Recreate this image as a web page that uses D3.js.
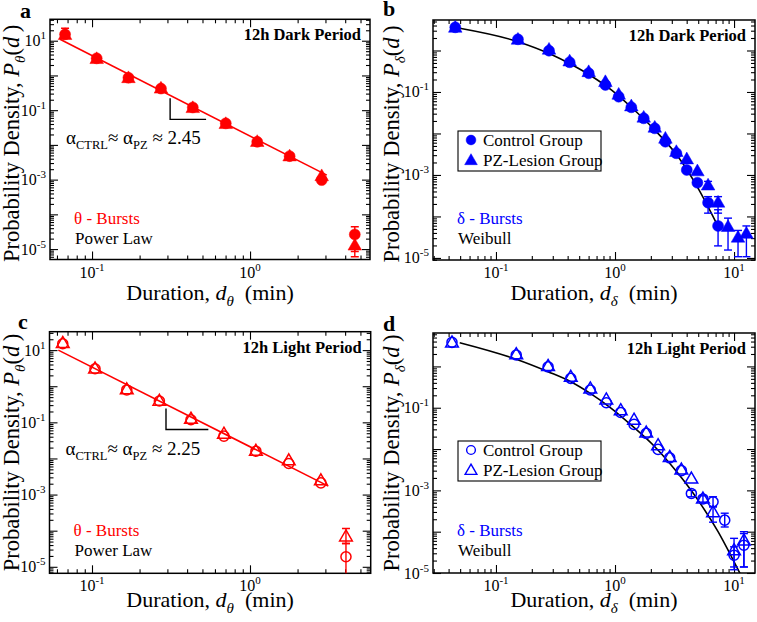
<!DOCTYPE html>
<html><head><meta charset="utf-8">
<script src="https://cdn.jsdelivr.net/npm/d3@7"></script>
<style>
body{margin:0;background:#fff}
svg{display:block}
text{font-family:"Liberation Serif","Times New Roman",serif}
</style></head><body>
<svg id="chart" width="757" height="622"></svg>
<script>
// ---------------- DATA ----------------
// Panel a: theta bursts, 12h dark period
const thetaDarkX    = [0.0675, 0.107, 0.170, 0.273, 0.434, 0.702, 1.11, 1.78, 2.84, 4.6];
const thetaDarkCtrl = [15.3, 3.11, 0.86, 0.42, 0.120, 0.0417, 0.0123, 0.00475, 0.00097, 2.64e-5];
const thetaDarkPZ   = [15.0, 3.05, 0.86, 0.43, 0.118, 0.041, 0.0125, 0.0048, 0.00129, 1.3e-5];
const thetaDarkCtrlErrLo = [null, null, null, null, null, null, null, null, null, 8.5e-6];
const thetaDarkCtrlErrHi = [22.8, null, null, null, null, null, null, null, null, 4.4e-5];
const thetaDarkPZErrLo   = [null, null, null, null, null, null, null, null, null, 6e-6];
const thetaDarkPZErrHi   = [null, null, null, null, null, null, null, null, null, 2.2e-5];
const thetaDarkFitX = [0.0627, 3.06];
const thetaDarkFitY = [11, 1.35e-3];
const thetaDarkSlopeX = [0.312, 0.312, 0.527];
const thetaDarkSlopeY = [0.219, 0.0543, 0.0543];

// Panel c: theta bursts, 12h light period
const thetaLightX    = [0.0653, 0.1045, 0.166, 0.267, 0.423, 0.684, 1.09, 1.76, 2.81, 4.05];
const thetaLightCtrl = [15.0, 3.05, 0.79, 0.39, 0.118, 0.0415, 0.0159, 0.00726, 0.00211, 1.9e-5];
const thetaLightPZ   = [16.0, 3.15, 0.83, 0.40, 0.128, 0.049, 0.0165, 0.00897, 0.0025, 7.0e-5];
const thetaLightCtrlErrLo = [null, null, null, null, null, null, null, null, null, 4e-6];
const thetaLightCtrlErrHi = [null, null, null, null, null, null, null, null, null, 4.4e-5];
const thetaLightPZErrLo   = [null, null, null, null, null, null, null, null, null, 4.4e-5];
const thetaLightPZErrHi   = [null, null, null, null, null, null, null, null, null, 1.15e-4];
const thetaLightFitX = [0.0612, 3.13];
const thetaLightFitY = [10, 1.71e-3];
const thetaLightSlopeX = [0.294, 0.294, 0.545];
const thetaLightSlopeY = [0.243, 0.0635, 0.0635];

// Panel b: delta bursts, 12h dark period
const deltaDarkCtrlX = [0.0455, 0.153, 0.279, 0.416, 0.601, 0.830, 1.074, 1.371, 1.742, 2.157, 2.650, 3.276, 4.007, 4.92, 6.05, 7.34];
const deltaDarkCtrl  = [3.62, 1.86, 0.99, 0.52, 0.283, 0.148, 0.077, 0.0428, 0.0232, 0.0133, 0.00634, 0.00333, 0.00132, 6.5e-4, 2.15e-4, 5.9e-5];
const deltaDarkCtrlErrLo = [null, null, null, null, null, null, null, null, null, null, null, null, null, null, 1.2e-4, 1.95e-5];
const deltaDarkCtrlErrHi = [null, null, null, null, null, null, null, null, null, null, null, null, null, null, 3.0e-4, 1.45e-4];
const deltaDarkPZX = [0.0455, 0.153, 0.279, 0.416, 0.601, 0.830, 1.074, 1.371, 1.742, 2.157, 2.650, 3.276, 4.007, 4.92, 6.05, 7.34, 8.9, 10.8, 12.7];
const deltaDarkPZ  = [3.62, 1.86, 1.07, 0.558, 0.308, 0.177, 0.088, 0.046, 0.0246, 0.0141, 0.00766, 0.00365, 0.00243, 0.00125, 5.7e-4, 2.2e-4, 5.7e-5, 3.15e-5, 3.9e-5];
const deltaDarkPZErrLo = [null, null, null, null, null, null, null, null, null, null, null, null, null, null, 4.6e-4, 1.2e-4, 1.55e-5, 1.07e-5, 1.07e-5];
const deltaDarkPZErrHi = [null, null, null, null, null, null, null, null, null, null, null, null, null, null, 7.0e-4, 3.0e-4, 9.1e-5, 4.6e-5, 5.9e-5];
const deltaDarkFitX = [0.0496, 0.153, 0.292, 0.430, 0.632, 0.931, 1.371, 2.157, 3.38, 4.98, 7.34];
const deltaDarkFitY = [3.43, 1.63, 0.80, 0.46, 0.243, 0.112, 0.0428, 0.0121, 0.00277, 4.8e-4, 5.7e-5];

// Panel d: delta bursts, 12h light period
const deltaLightCtrlX = [0.0427, 0.148, 0.274, 0.425, 0.620, 0.845, 1.117, 1.445, 1.83, 2.30, 2.88, 3.61, 4.38, 5.48, 6.66, 8.35, 10.0, 12.1];
const deltaLightCtrl  = [3.83, 1.89, 0.98, 0.515, 0.269, 0.132, 0.077, 0.0395, 0.024, 0.0098, 0.00615, 0.0030, 8.4e-4, 6.2e-4, 5.3e-4, 1.9e-4, 2.7e-5, 4.7e-5];
const deltaLightCtrlErrLo = [null, null, null, null, null, null, null, null, null, null, null, null, 7e-4, 5.2e-4, 4e-4, 1.3e-4, 1.2e-5, 1.4e-5];
const deltaLightCtrlErrHi = [null, null, null, null, null, null, null, null, null, null, null, null, 1e-3, 7.4e-4, 7e-4, 2.8e-4, 4.3e-5, 1e-4];
const deltaLightPZX = [0.0427, 0.148, 0.274, 0.425, 0.620, 0.845, 1.117, 1.445, 1.83, 2.30, 2.88, 3.61, 4.38, 5.48, 6.66, 10.0, 12.1];
const deltaLightPZ  = [3.83, 2.0, 1.04, 0.564, 0.295, 0.160, 0.088, 0.052, 0.0253, 0.0125, 0.0065, 0.00322, 0.00195, 6.4e-4, 3.0e-4, 3.6e-5, 6.2e-5];
const deltaLightPZErrLo = [null, null, null, null, null, null, null, null, null, null, null, null, null, null, 1.7e-4, 1.4e-5, 1.4e-5];
const deltaLightPZErrHi = [null, null, null, null, null, null, null, null, null, null, null, null, null, null, 4e-4, 6.9e-5, 9e-5];
const deltaLightFitX = [0.0496, 0.148, 0.274, 0.425, 0.620, 0.93, 1.37, 2.16, 3.38, 4.98, 7.34, 9.5, 11.5];
const deltaLightFitY = [3.75, 1.49, 0.745, 0.427, 0.223, 0.097, 0.038, 0.0114, 0.00258, 5.8e-4, 1.0e-4, 2.5e-5, 8.5e-6];

// Labels
const panelLetters = ["a", "b", "c", "d"];
const periodTitles = ["12h Dark Period", "12h Dark Period", "12h Light Period", "12h Light Period"];
const legendLabels = ["Control Group", "PZ-Lesion Group"];
const burstLabels = ["\u03b8 - Bursts", "\u03b4 - Bursts"];
const fitLabels = ["Power Law", "Weibull"];
const alphaValues = ["2.45", "2.25"];

// ---------------- DRAWING ----------------
const svg = d3.select("#chart");
const RED = "#ff0000", BLUE = "#0000ff";

function zip(xs, ys, lo, hi) {
  return xs.map((x, i) => ({x: x, y: ys[i], lo: lo ? lo[i] : null, hi: hi ? hi[i] : null}));
}

function decadeTicks(domain) {
  const lo = Math.floor(Math.log10(domain[0])), hi = Math.ceil(Math.log10(domain[1]));
  const major = [], minor = [];
  for (let e = lo; e <= hi; e++) {
    for (let m = 1; m <= 9; m++) {
      const v = m * Math.pow(10, e);
      if (v < domain[0] || v > domain[1]) continue;
      (m === 1 ? major : minor).push(v);
    }
  }
  return {major, minor};
}

let clipId = 0;
function drawPanel(cfg) {
  const g = svg.append("g");
  const x = d3.scaleLog().domain(cfg.xDomain).range([cfg.left, cfg.right]);
  const y = d3.scaleLog().domain(cfg.yDomain).range([cfg.bottom, cfg.top]);
  const W = cfg.right - cfg.left, H = cfg.bottom - cfg.top;

  const cid = "clip" + (clipId++);
  g.append("clipPath").attr("id", cid).append("rect")
    .attr("x", cfg.left).attr("y", cfg.top).attr("width", W).attr("height", H);

  // ticks (all four sides, inward)
  const xt = decadeTicks(cfg.xDomain), yt = decadeTicks(cfg.yDomain);
  const axes = [
    [d3.axisBottom, x, `translate(0,${cfg.bottom})`, xt],
    [d3.axisTop, x, `translate(0,${cfg.top})`, xt],
    [d3.axisLeft, y, `translate(${cfg.left},0)`, yt],
    [d3.axisRight, y, `translate(${cfg.right},0)`, yt]
  ];
  axes.forEach(([fn, sc, tr, t]) => {
    [[t.minor, 4], [t.major, 8]].forEach(([vals, len]) => {
      const a = g.append("g").attr("transform", tr)
        .call(fn(sc).tickValues(vals).tickSize(-len).tickFormat(""));
      a.select(".domain").remove();
      a.selectAll("line").attr("stroke", "#000").attr("stroke-width", 1.1);
    });
  });

  // frame
  g.append("rect").attr("x", cfg.left).attr("y", cfg.top).attr("width", W).attr("height", H)
    .attr("fill", "none").attr("stroke", "#000").attr("stroke-width", 1.5);

  // x tick labels
  xt.major.forEach(v => {
    const e = Math.round(Math.log10(v));
    const t = g.append("text").attr("x", x(v)).attr("y", cfg.bottom + 18)
      .attr("text-anchor", "middle").attr("font-size", 16);
    t.append("tspan").text("10");
    t.append("tspan").attr("font-size", 11).attr("dy", -7).text(String(e));
  });
  // y tick labels (odd decades)
  yt.major.forEach(v => {
    const e = Math.round(Math.log10(v));
    if (Math.abs(e) % 2 !== 1) return;
    const t = g.append("text").attr("x", cfg.left - 4).attr("y", y(v) + 5.5)
      .attr("text-anchor", "end").attr("font-size", 16);
    t.append("tspan").text("10");
    t.append("tspan").attr("font-size", 11).attr("dy", -7).text(String(e));
  });

  // axis titles
  const xt2 = g.append("text").attr("x", (cfg.left + cfg.right) / 2).attr("y", cfg.xTitleY)
    .attr("text-anchor", "middle").attr("font-size", 22);
  xt2.append("tspan").text("Duration, ");
  xt2.append("tspan").attr("font-style", "italic").text("d");
  xt2.append("tspan").attr("font-style", "italic").attr("font-size", 15).attr("dy", 6).text(cfg.sym);
  xt2.append("tspan").attr("dy", -6).text("\u00a0\u00a0(min)");

  const yt2 = g.append("text")
    .attr("transform", `translate(${cfg.yTitleX},${(cfg.top + cfg.bottom) / 2 + cfg.yTitleShift}) rotate(-90)`)
    .attr("text-anchor", "middle").attr("font-size", 22.5);
  yt2.append("tspan").text("Probability Density, ");
  yt2.append("tspan").attr("font-style", "italic").text("P");
  yt2.append("tspan").attr("font-style", "italic").attr("font-size", 15).attr("dy", 6).text(cfg.sym);
  yt2.append("tspan").attr("dy", -6).text("(");
  yt2.append("tspan").attr("font-style", "italic").text("d");
  yt2.append("tspan").text("\u2009)");

  // panel letter
  g.append("text").attr("x", cfg.letterX).attr("y", cfg.letterY)
    .attr("font-size", 22).attr("font-weight", "bold").text(cfg.letter);

  // period title
  g.append("text").attr("x", cfg.right - 9).attr("y", cfg.top + 21)
    .attr("text-anchor", "end").attr("font-size", 16.5).attr("font-weight", "bold").text(cfg.title);

  // burst & fit labels
  g.append("text").attr("x", cfg.left + 24).attr("y", cfg.top + cfg.burstDy)
    .attr("font-size", 17).attr("fill", cfg.color).text(cfg.burst);
  g.append("text").attr("x", cfg.left + 25).attr("y", cfg.top + cfg.burstDy + 20)
    .attr("font-size", 17).attr("fill", "#000").text(cfg.fitLabel);

  const plot = g.append("g").attr("clip-path", `url(#${cid})`);

  // fit line
  const line = d3.line().x(d => x(d[0])).y(d => y(d[1]))
    .curve(cfg.fitX.length > 2 ? d3.curveMonotoneX : d3.curveLinear);
  plot.append("path").datum(cfg.fitX.map((v, i) => [v, cfg.fitY[i]]))
    .attr("d", line).attr("fill", "none").attr("stroke", cfg.fitColor).attr("stroke-width", 1.6);

  // slope triangle + alpha text
  if (cfg.slopeX) {
    g.append("path").datum(cfg.slopeX.map((v, i) => [v, cfg.slopeY[i]]))
      .attr("d", d3.line().x(d => x(d[0])).y(d => y(d[1])))
      .attr("fill", "none").attr("stroke", "#000").attr("stroke-width", 1.4);
    const at = g.append("text").attr("x", cfg.left + 16).attr("y", cfg.top + cfg.alphaDy)
      .attr("font-size", 19);
    at.append("tspan").text("\u03b1");
    at.append("tspan").attr("font-size", 12.5).attr("dy", 5).text("CTRL");
    at.append("tspan").attr("dy", -5).text("\u2248 \u03b1");
    at.append("tspan").attr("font-size", 12.5).attr("dy", 5).text("PZ");
    at.append("tspan").attr("dy", -5).text(" \u2248 " + cfg.alpha);
  }

  // series: error bars first
  cfg.series.forEach(s => {
    const eb = s.data.filter(d => d.lo != null || d.hi != null);
    eb.forEach(d => {
      const y0 = y(d.lo != null ? d.lo : d.y), y1 = y(d.hi != null ? d.hi : d.y);
      const px = x(d.x);
      plot.append("line").attr("x1", px).attr("x2", px).attr("y1", y0).attr("y2", y1)
        .attr("stroke", cfg.color).attr("stroke-width", 1.4);
      if (d.lo != null) plot.append("line").attr("x1", px - 4).attr("x2", px + 4).attr("y1", y0).attr("y2", y0)
        .attr("stroke", cfg.color).attr("stroke-width", 1.4);
      if (d.hi != null) plot.append("line").attr("x1", px - 4).attr("x2", px + 4).attr("y1", y1).attr("y2", y1)
        .attr("stroke", cfg.color).attr("stroke-width", 1.4);
    });
  });
  cfg.series.forEach(s => {
    const sym = d3.symbol().type(s.shape === "circle" ? d3.symbolCircle : d3.symbolTriangle)
      .size(s.shape === "circle" ? (cfg.open ? 80 : 95) : (cfg.open ? 70 : 80));
    plot.selectAll(null).data(s.data).enter().append("path")
      .attr("d", sym)
      .attr("transform", d => `translate(${x(d.x)},${y(d.y) + (s.shape === "circle" ? 0 : 1)})`)
      .attr("fill", cfg.open ? "none" : cfg.color)
      .attr("stroke", cfg.color).attr("stroke-width", cfg.open ? 1.5 : 0.5);
  });

  // legend
  if (cfg.legend) {
    const L = cfg.legend;
    g.append("rect").attr("x", L.x).attr("y", L.y).attr("width", 143).attr("height", 40)
      .attr("fill", "#fff").attr("stroke", "#000").attr("stroke-width", 1.1);
    ["circle", "triangle"].forEach((shape, i) => {
      const sym = d3.symbol().type(shape === "circle" ? d3.symbolCircle : d3.symbolTriangle)
        .size(shape === "circle" ? (cfg.open ? 60 : 75) : (cfg.open ? 60 : 70));
      const cy = L.y + 9 + i * 20;
      g.append("path").attr("d", sym).attr("transform", `translate(${L.x + 13},${cy + (shape === "circle" ? 0 : 1)})`)
        .attr("fill", cfg.open ? "none" : cfg.color).attr("stroke", cfg.color).attr("stroke-width", cfg.open ? 1.4 : 0.5);
      g.append("text").attr("x", L.x + 25).attr("y", cy + 6).attr("font-size", 17).text(legendLabels[i]);
    });
  }
}

drawPanel({
  letter: panelLetters[0], letterX: 20, letterY: 18, title: periodTitles[0],
  left: 50, right: 370, top: 19.3, bottom: 259.5,
  xDomain: [Math.pow(10, -1.266), Math.pow(10, 0.759)], yDomain: [Math.pow(10, -5.30), Math.pow(10, 1.617)],
  xTitleY: 300, yTitleX: 19, yTitleShift: 4, sym: "\u03b8", color: RED, fitColor: RED, open: false,
  burst: burstLabels[0], fitLabel: fitLabels[0], burstDy: 205,
  fitX: thetaDarkFitX, fitY: thetaDarkFitY, slopeX: thetaDarkSlopeX, slopeY: thetaDarkSlopeY,
  alpha: alphaValues[0], alphaDy: 125,
  series: [
    {shape: "circle", data: zip(thetaDarkX, thetaDarkCtrl, thetaDarkCtrlErrLo, thetaDarkCtrlErrHi)},
    {shape: "triangle", data: zip(thetaDarkX, thetaDarkPZ, thetaDarkPZErrLo, thetaDarkPZErrHi)}
  ]
});

drawPanel({
  letter: panelLetters[1], letterX: 383, letterY: 16, title: periodTitles[1],
  left: 433, right: 755, top: 20, bottom: 260,
  xDomain: [Math.pow(10, -1.529), Math.pow(10, 1.176)], yDomain: [Math.pow(10, -5.05), Math.pow(10, 0.735)],
  xTitleY: 300, yTitleX: 399, yTitleShift: 4, sym: "\u03b4", color: BLUE, fitColor: "#000", open: false,
  burst: burstLabels[1], fitLabel: fitLabels[1], burstDy: 204,
  fitX: deltaDarkFitX, fitY: deltaDarkFitY,
  legend: {x: 458, y: 131},
  series: [
    {shape: "circle", data: zip(deltaDarkCtrlX, deltaDarkCtrl, deltaDarkCtrlErrLo, deltaDarkCtrlErrHi)},
    {shape: "triangle", data: zip(deltaDarkPZX, deltaDarkPZ, deltaDarkPZErrLo, deltaDarkPZErrHi)}
  ]
});

drawPanel({
  letter: panelLetters[2], letterX: 18, letterY: 329, title: periodTitles[2],
  left: 49.5, right: 370.7, top: 331.7, bottom: 573.3,
  xDomain: [Math.pow(10, -1.269), Math.pow(10, 0.764)], yDomain: [Math.pow(10, -5.18), Math.pow(10, 1.51)],
  xTitleY: 607, yTitleX: 19, yTitleShift: 0, sym: "\u03b8", color: RED, fitColor: RED, open: true,
  burst: burstLabels[0], fitLabel: fitLabels[0], burstDy: 204,
  fitX: thetaLightFitX, fitY: thetaLightFitY, slopeX: thetaLightSlopeX, slopeY: thetaLightSlopeY,
  alpha: alphaValues[1], alphaDy: 123,
  series: [
    {shape: "circle", data: zip(thetaLightX, thetaLightCtrl, thetaLightCtrlErrLo, thetaLightCtrlErrHi)},
    {shape: "triangle", data: zip(thetaLightX, thetaLightPZ, thetaLightPZErrLo, thetaLightPZErrHi)}
  ]
});

drawPanel({
  letter: panelLetters[3], letterX: 383, letterY: 331, title: periodTitles[3],
  left: 433, right: 755, top: 333, bottom: 573,
  xDomain: [Math.pow(10, -1.529), Math.pow(10, 1.176)], yDomain: [Math.pow(10, -5.0), Math.pow(10, 0.809)],
  xTitleY: 607, yTitleX: 399, yTitleShift: 0, sym: "\u03b4", color: BLUE, fitColor: "#000", open: true,
  burst: burstLabels[1], fitLabel: fitLabels[1], burstDy: 203,
  fitX: deltaLightFitX, fitY: deltaLightFitY,
  legend: {x: 458, y: 441},
  series: [
    {shape: "circle", data: zip(deltaLightCtrlX, deltaLightCtrl, deltaLightCtrlErrLo, deltaLightCtrlErrHi)},
    {shape: "triangle", data: zip(deltaLightPZX, deltaLightPZ, deltaLightPZErrLo, deltaLightPZErrHi)}
  ]
});
</script>
</body></html>
